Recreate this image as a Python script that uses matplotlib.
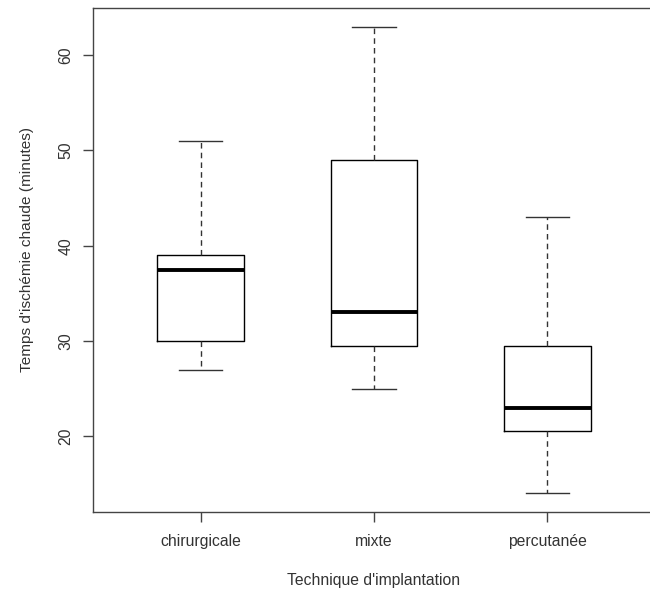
import matplotlib.pyplot as plt

plt.rcParams['font.family'] = ['Liberation Sans', 'DejaVu Sans']

groups = ["chirurgicale", "mixte", "percutanée"]
whislo = [27, 25, 14]
q1 = [30, 29.5, 20.5]
med = [37.5, 33, 23]
q3 = [39, 49, 29.5]
whishi = [51, 63, 43]

stats = []
for i in range(len(groups)):
    stats.append({"label": groups[i], "whislo": whislo[i], "q1": q1[i],
                  "med": med[i], "q3": q3[i], "whishi": whishi[i], "fliers": []})

fig = plt.figure(figsize=(6.5, 5.9), dpi=100)
ax = fig.add_axes([93 / 650, 1 - 512 / 590, (655 - 93) / 650, (512 - 8) / 590])

ax.bxp(stats, positions=[1, 2, 3], widths=0.5, showfliers=False,
       boxprops=dict(color="black", linewidth=1),
       medianprops=dict(color="black", linewidth=2.8, solid_capstyle="butt"),
       whiskerprops=dict(color="#333333", linewidth=1, linestyle=(0, (4, 3))),
       capprops=dict(color="#333333", linewidth=1),
       capwidths=0.25)

ax.set_xlim(0.38, 3.62)
ax.set_ylim(12.04, 64.96)
ax.set_yticks([20, 30, 40, 50, 60])
ax.set_xticks([1, 2, 3])
ax.set_xticklabels(groups)

for s in ax.spines.values():
    s.set_color("#444444")
    s.set_linewidth(1)
ax.tick_params(colors="#444444", labelcolor="#333333", labelsize=11.3, length=7, width=1, pad=7)
ax.tick_params(axis="x", pad=9)
for lab in ax.get_yticklabels():
    lab.set_rotation(90)
    lab.set_va("center")

fig.text(374 / 650, 1 - 580 / 590, "Technique d'implantation", ha="center", va="center",
         fontsize=11.3, color="#333333")
fig.text(27 / 650, 1 - 249 / 590, "Temps d'ischémie chaude (minutes)", ha="center", va="center",
         rotation=90, fontsize=11.1, color="#333333")

fig.savefig("out.png", dpi=100)
